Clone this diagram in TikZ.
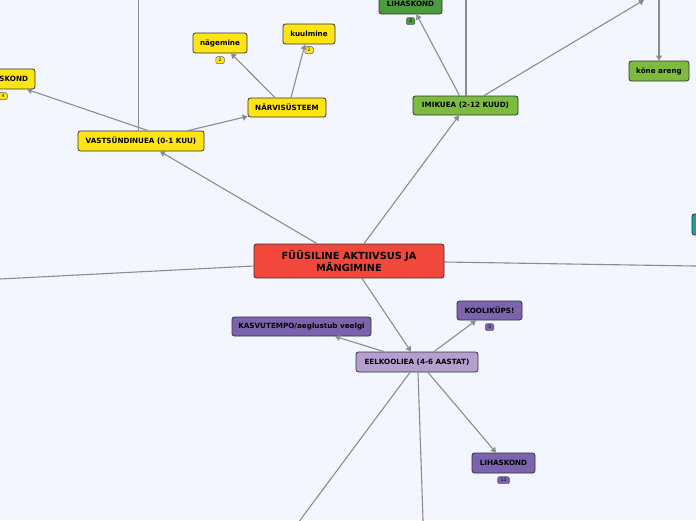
\documentclass[tikz,border=0pt]{standalone}
\usepackage{fontspec}
\setmainfont{DejaVu Sans}
\usepackage{xcolor}
\usetikzlibrary{arrows.meta,positioning}

\definecolor{bgblue}{HTML}{F3F6FE}
\definecolor{mmred}{HTML}{F2483C}
\definecolor{mmyellow}{HTML}{FFE414}
\definecolor{mmgreen}{HTML}{7DBB3F}
\definecolor{mmdarkgreen}{HTML}{4B9C3C}
\definecolor{mmpurple}{HTML}{7B63AE}
\definecolor{mmlilac}{HTML}{B49FCF}
\definecolor{mmteal}{HTML}{18A39A}
\definecolor{linegray}{HTML}{8C8C8C}

\begin{document}
\begin{tikzpicture}[x=1pt, y=-1pt,
    topic/.style={draw=black!80, line width=0.8pt, rectangle, rounded corners=2.5pt, minimum height=20pt, inner sep=0pt, font=\bfseries\fontsize{7.2}{8}\selectfont, text=black},
    central/.style={topic, fill=mmred, minimum width=190pt, minimum height=34pt, align=center, font=\bfseries\fontsize{9.8}{10.5}\selectfont},
    yellowbox/.style={topic, fill=mmyellow},
    greenbox/.style={topic, fill=mmgreen},
    darkgreenbox/.style={topic, fill=mmdarkgreen},
    purplebox/.style={topic, fill=mmpurple},
    lilacbox/.style={topic, fill=mmlilac},
    tealbox/.style={topic, fill=mmteal},
    badge/.style={draw, line width=0.5pt, rectangle, rounded corners=1.5pt, inner sep=0.8pt, minimum width=8.5pt, minimum height=7pt, font=\fontsize{4.6}{5}\selectfont},
    link/.style={draw=linegray, line width=1.1pt},
    arrow/.style={link, -{Triangle[width=6pt,length=5pt]}}
]

\useasboundingbox (0,0) rectangle (696,520);
\fill[bgblue] (0,0) rectangle (696,520);
\clip (0,0) rectangle (696,520);

% main topic
\node[central] (main) at (349,261) {FÜÜSILINE AKTIIVSUS JA\\MÄNGIMINE};

% vastsundinuea
\node[yellowbox, minimum width=126pt] (vast) at (141,141) {VASTSÜNDINUEA (0-1 KUU)};
\node[yellowbox, minimum width=78pt, minimum height=19pt] (narv) at (287,107.5) {NÄRVISÜSTEEM};
\node[yellowbox, minimum width=54pt] (nag) at (220,43) {nägemine};
\node[yellowbox, minimum width=52pt] (kuul) at (309,34) {kuulmine};
\node[yellowbox, minimum width=64pt, text width=50pt, align=right] (lihaY) at (3,79) {SKOND};
\node[badge, fill=mmyellow, draw=black!60, below=3pt of lihaY] (lihaYB) {4};
\node[badge, fill=mmyellow, draw=black!60, below=3pt of nag] (nagB) {2};
\node[badge, fill=mmyellow, draw=black!60, below=2pt of kuul] (kuulB) {2};

% imikuea
\node[greenbox, minimum width=105pt, minimum height=19pt] (imik) at (465.5,105.5) {IMIKUEA (2-12 KUUD)};
\node[darkgreenbox, minimum width=63pt] (lihaG) at (410.5,4) {LIHASKOND};
\node[greenbox, minimum width=60pt] (kone) at (659,71) {kõne areng};
\node[badge, fill=mmdarkgreen, draw=black!60, below=3pt of lihaG] (lihaGB) {3};

% off-canvas topic
\node[tealbox, minimum width=66pt, minimum height=21pt] (teal) at (725,224.5) {};

% eelkooliea
\node[lilacbox, minimum width=122pt] (eelk) at (417,362) {EELKOOLIEA (4-6 AASTAT)};
\node[purplebox, minimum width=139pt, minimum height=19pt] (kasv) at (301.5,326.5) {KASVUTEMPO/aeglustub veelgi};
\node[purplebox, minimum width=65pt, minimum height=19pt] (kool) at (489.5,310.5) {KOOLIKÜPS!};
\node[purplebox, minimum width=63pt] (lihaP) at (503.5,463) {LIHASKOND};
\node[badge, fill=mmpurple, draw=black!60, below=3pt of kool] (koolB) {3};
\node[badge, fill=mmpurple, draw=black!60, minimum width=12pt, below=3pt of lihaP] (lihaPB) {11};

% free ends
\coordinate (leftoff) at (-20,280);
\coordinate (rightoff) at (720,266.4);
\coordinate (vastup) at (138.5,-10);
\coordinate (imikup) at (466,-10);
\coordinate (trtip) at (644,0);
\coordinate (trfoot) at (659,-2);
\coordinate (eelkdl) at (292,531);
\coordinate (eelkd) at (423.4,531);

% connectors
\draw[arrow] ([xshift=-32pt]main.north) -- ([xshift=19pt]vast.south);
\draw[arrow] ([xshift=15pt]main.north) -- ([xshift=-6.5pt]imik.south);
\draw[arrow] ([xshift=13pt]main.south) -- ([xshift=-6pt]eelk.north);
\draw[link] ([yshift=-5pt]main.west) -- (leftoff);
\draw[link] ([yshift=-1pt]main.east) -- (rightoff);

\draw[arrow] ([xshift=7pt]vast.north) -- ([xshift=24pt]lihaY.south);
\draw[link] ([xshift=-2.5pt]vast.north) -- (vastup);
\draw[arrow] ([xshift=47pt]vast.north) -- ([yshift=1pt]narv.south west);
\draw[arrow] ([xshift=-12pt]narv.north) -- ([xshift=11pt]nag.south);
\draw[arrow] ([xshift=4pt]narv.north) -- ([xshift=-4pt]kuul.south);

\draw[arrow] ([xshift=-6pt]imik.north) -- ([xshift=6pt]lihaG.south);
\draw[link] ([xshift=0.5pt]imik.north) -- (imikup);
\draw[arrow] ([xshift=18.5pt]imik.north) -- (trtip);
\draw[arrow] (trfoot) -- (kone.north);

\draw[arrow] ([xshift=-33pt]eelk.north) -- ([xshift=33.5pt]kasv.south);
\draw[arrow] ([xshift=17pt]eelk.north) -- ([xshift=-13.5pt]kool.south);
\draw[arrow] ([xshift=11pt]eelk.south) -- ([xshift=-7.5pt]lihaP.north);
\draw[link] ([xshift=-7pt]eelk.south) -- (eelkdl);
\draw[link] ([xshift=1pt]eelk.south) -- (eelkd);

\end{tikzpicture}
\end{document}
